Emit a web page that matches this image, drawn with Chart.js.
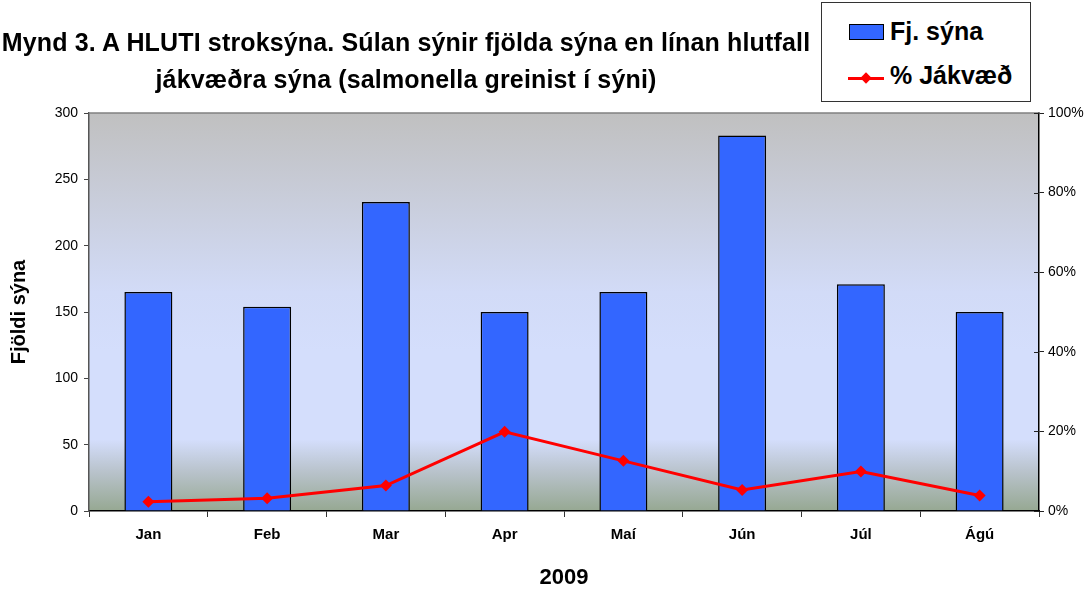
<!DOCTYPE html>
<html>
<head>
<meta charset="utf-8">
<script src="https://cdn.jsdelivr.net/npm/chart.js@4/dist/chart.umd.min.js"></script>
<style>
  html, body { margin: 0; padding: 0; background: #fff; }
  #wrap { position: relative; width: 1092px; height: 594px; overflow: hidden; font-family: "Liberation Sans", Arial, sans-serif; }
  canvas { position: absolute; left: 0; top: 0; }
  #title { position: absolute; left: 0; top: 24px; width: 812px; text-align: center; font-weight: bold; font-size: 25px; line-height: 37px; letter-spacing: 0.15px; color: #000; white-space: nowrap; }
  #legend { position: absolute; left: 821px; top: 2px; width: 208px; height: 98px; border: 1px solid #333; background: #fff; }
  .ltext { position: absolute; left: 68px; font-weight: bold; font-size: 25px; line-height: 25px; color: #000; white-space: nowrap; }
  #lbar { position: absolute; left: 27px; top: 21px; width: 33px; height: 14px; background: #3366ff; border: 1px solid #000; }
  #lline { position: absolute; left: 26px; top: 74px; width: 36px; height: 3px; background: #ff0000; }
  #ldiam { position: absolute; left: 40px; top: 71px; width: 8px; height: 8px; background: #ff0000; transform: rotate(45deg); }
</style>
</head>
<body>
<div id="wrap">
  <canvas id="c" width="1092" height="594"></canvas>
  <div id="title">Mynd 3. A HLUTI stroksýna. Súlan sýnir fjölda sýna en línan hlutfall<br>jákvæðra sýna (salmonella greinist í sýni)</div>
  <div id="legend">
    <div id="lbar"></div>
    <div class="ltext" style="top:16px">Fj. sýna</div>
    <div id="lline"></div>
    <div id="ldiam"></div>
    <div class="ltext" style="top:60px">% Jákvæð</div>
  </div>
</div>
<script>
const months = ['Jan', 'Feb', 'Mar', 'Apr', 'Maí', 'Jún', 'Júl', 'Ágú'];
const sampleCounts = [165, 154, 233, 150, 165, 283, 171, 150];
const positivePct = [2.3, 3.2, 6.4, 19.9, 12.6, 5.3, 9.9, 3.9];
const barLabel = 'Fj. sýna';
const lineLabel = '% Jákvæð';
const leftAxisTitle = 'Fjöldi sýna';
const bottomAxisTitle = '2009';

const FONT = '"Liberation Sans", Arial, sans-serif';

const plotDecor = {
  id: 'plotDecor',
  beforeDraw(chart) {
    const { ctx, chartArea: a } = chart;
    const g = ctx.createLinearGradient(0, a.top, 0, a.bottom);
    g.addColorStop(0, '#c0c0c0');
    g.addColorStop(0.45, '#d2dbf7');
    g.addColorStop(0.6, '#d4defc');
    g.addColorStop(0.82, '#d4defc');
    g.addColorStop(0.9, '#b9c3cc');
    g.addColorStop(1, '#96a892');
    ctx.save();
    ctx.fillStyle = g;
    ctx.fillRect(a.left, a.top, a.right - a.left, a.bottom - a.top);
    ctx.restore();
  },
  afterDraw(chart) {
    const { ctx, chartArea: a } = chart;
    ctx.save();
    ctx.strokeStyle = '#808080';
    ctx.lineWidth = 1.5;
    ctx.beginPath();
    ctx.moveTo(a.left, a.top);
    ctx.lineTo(a.right, a.top);
    ctx.stroke();
    const y1 = chart.scales.y1;
    ctx.strokeStyle = '#222';
    ctx.lineWidth = 1;
    y1.ticks.forEach(t => {
      const p = Math.round(y1.getPixelForValue(t.value)) + 0.5;
      ctx.beginPath();
      ctx.moveTo(a.right - 5, p);
      ctx.lineTo(a.right, p);
      ctx.stroke();
    });
    ctx.restore();
  }
};

new Chart(document.getElementById('c'), {
  data: {
    labels: months,
    datasets: [
      {
        type: 'line',
        label: lineLabel,
        data: positivePct,
        yAxisID: 'y1',
        order: 0,
        borderColor: '#ff0000',
        backgroundColor: '#ff0000',
        borderWidth: 3,
        pointStyle: 'rectRot',
        pointRadius: 6,
        pointBorderWidth: 0,
        pointBackgroundColor: '#ff0000',
        tension: 0
      },
      {
        type: 'bar',
        label: barLabel,
        data: sampleCounts,
        yAxisID: 'y',
        order: 1,
        backgroundColor: '#3366ff',
        borderColor: '#000000',
        borderWidth: 1.5,
        categoryPercentage: 0.8,
        barPercentage: 0.505
      }
    ]
  },
  options: {
    responsive: false,
    devicePixelRatio: 1,
    animation: false,
    layout: { padding: { top: 113, left: 0, right: 0, bottom: 0 } },
    plugins: {
      legend: { display: false },
      title: { display: false },
      tooltip: { enabled: false }
    },
    scales: {
      x: {
        type: 'category',
        offset: true,
        grid: { display: true, drawOnChartArea: false, offset: true, tickLength: 6, color: '#333', lineWidth: 1 },
        border: { display: true, color: '#000', width: 1.5 },
        ticks: { color: '#000', padding: 9, font: { family: FONT, size: 15, weight: 'bold' }, maxRotation: 0 },
        title: { display: true, text: bottomAxisTitle, color: '#000', font: { family: FONT, size: 22, weight: 'bold' }, padding: { top: 0, bottom: 3 } },
        afterFit(s) { s.height = 83; }
      },
      y: {
        position: 'left',
        min: 0, max: 300,
        ticks: { stepSize: 50, color: '#000', padding: 6, font: { family: FONT, size: 14 } },
        grid: { drawOnChartArea: false, tickLength: 5, color: '#444', lineWidth: 1 },
        border: { display: true, color: '#555', width: 1.5 },
        title: { display: true, text: leftAxisTitle, color: '#000', font: { family: FONT, size: 20, weight: 'bold' }, padding: { top: 7, bottom: 0 } },
        afterFit(s) { s.width = 89; }
      },
      y1: {
        position: 'right',
        min: 0, max: 100,
        ticks: { stepSize: 20, color: '#000', padding: 4, font: { family: FONT, size: 14 }, callback: v => v + '%' },
        grid: { drawOnChartArea: false, tickLength: 5, color: '#222', lineWidth: 1 },
        border: { display: true, color: '#000', width: 1.5 },
        afterFit(s) { s.width = 53; }
      }
    }
  },
  plugins: [plotDecor]
});
</script>
</body>
</html>
